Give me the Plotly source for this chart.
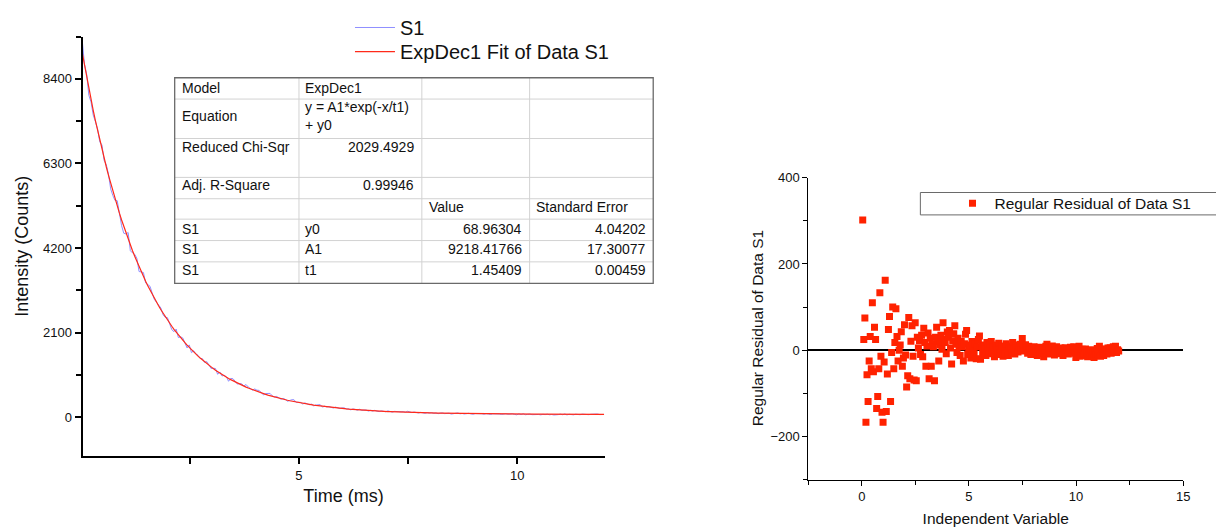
import numpy as np
import plotly.graph_objects as go

# ---------------- data ----------------
TIME_START = 0.04      # ms, first sample
TIME_STEP = 0.05       # ms, sampling interval

# regular residuals (counts), one per sample
RESIDUALS = [
    302, 25, 75, -167, -57, -119, -25, 32, -43, 110,
    -50, 53, 25, -135, -107, -43, 133, -14, -144, -167,
    -27, 162, -142, -55, 48, 78, -119, -5, 100, -43,
    18, 96, 32, -25, 0, 12, 43, -37, -18, 59,
    -11, -85, -59, 76, -66, 21, 57, -14, -69, 64,
    -71, 30, 5, 22, -10, 35, -15, 51, 18, -37,
    10, 40, -66, 28, -37, 15, 8, -71, 30, 53,
    20, -25, 12, 35, 2, 64, 25, 18, -8, 42,
    30, 46, 5, -32, 22, 38, 57, 14, -5, 28,
    10, -12, 20, 8, -25, 15, 37, 46, -10, 5,
    12, -18, 20, 3, -8, 15, -20, 8, 25, 33,
    -21, 10, -5, 12, 2, -12, 18, 6, -8, 14,
    20, -4, 8, -15, 12, 5, -10, 16, -6, 3,
    10, -14, 7, -8, 15, -3, -12, 9, 4, -6,
    18, 2, -9, 12, 6, -4, 8, 14, 0, 27,
    10, -2, 13, 5, -7, 9, 3, -10, 6, -3,
    8, -6, 4, -12, 2, 7, -8, -4, 5, -15,
    0, 9, 14, -6, 3, -9, 6, 10, -3, -11,
    4, 8, -5, 2, -8, 5, -2, -12, 3, 6,
    -6, 1, -9, 4, 7, -4, 2, 8, -7, -17,
    5, -10, 9, -14, -5, 2, -12, -8, 3, -6,
    -15, -2, -9, 1, -12, -5, -17, -3, -8, 4,
    -10, 9, -14, 2, -6, -12, 3, -4, -9, 5,
    -3, 6, -7, 2, 8, -2, 9, -5, 1, -2,
]

# fit parameters (ExpDec1)
FIT_Y0 = 68.96304
FIT_A1 = 9218.41766
FIT_T1 = 1.45409

# fit-report table
TABLE_COL1 = ["Model", "Equation", "Reduced Chi-Sqr", "Adj. R-Square", "", "S1", "S1", "S1"]
TABLE_COL2 = ["ExpDec1", "y = A1*exp(-x/t1)<br>+ y0", "2029.4929", "0.99946", "", "y0", "A1", "t1"]
TABLE_COL3 = ["", "", "", "", "Value", "68.96304", "9218.41766", "1.45409"]
TABLE_COL4 = ["", "", "", "", "Standard Error", "4.04202", "17.30077", "0.00459"]

LEFT_Y_TICKS = [0, 2100, 4200, 6300, 8400]
LEFT_X_TICKVALS = [2.5, 5, 7.5, 10]
LEFT_X_TICKTEXT = ["", "5", "", "10"]

# ---------------- derived series ----------------
t = TIME_START + TIME_STEP * np.arange(len(RESIDUALS))
fit = FIT_A1 * np.exp(-t / FIT_T1) + FIT_Y0
data_s1 = fit + np.array(RESIDUALS)

W, H = 1216, 527
FONT = "Liberation Sans, Arial, sans-serif"
TXT = "#111111"


def X(p):
    return p / W


def Y(p):
    return 1 - p / H


fig = go.Figure()

fig.add_trace(go.Scatter(
    x=t, y=data_s1, mode="lines", name="S1",
    line=dict(color="#8f8fff", width=1),
    xaxis="x", yaxis="y", legend="legend",
))
fig.add_trace(go.Scatter(
    x=t, y=fit, mode="lines", name="ExpDec1 Fit of Data S1",
    line=dict(color="#ff2a1a", width=1.2),
    xaxis="x", yaxis="y", legend="legend3",
))
fig.add_trace(go.Scatter(
    x=t, y=RESIDUALS, mode="markers", name="Regular Residual of Data S1",
    marker=dict(symbol="square", size=7, color="#ff2200", line=dict(width=0)),
    xaxis="x2", yaxis="y2", legend="legend2",
))

# ---------------- table (shapes + annotations) ----------------
col_lines = [175.7, 300.7, 424.3, 532.7, 657]
row_lines = [71.7, 93.3, 133.3, 172.7, 194.3, 215, 236.7, 258.3, 280]
shapes = []
for yy in row_lines[1:-1]:
    shapes.append(dict(type="line", xref="paper", yref="paper",
                       x0=X(col_lines[0]), x1=X(col_lines[-1]), y0=Y(yy), y1=Y(yy),
                       line=dict(color="#d2d2d2", width=1)))
for xx in col_lines[1:-1]:
    shapes.append(dict(type="line", xref="paper", yref="paper",
                       x0=X(xx), x1=X(xx), y0=Y(row_lines[0]), y1=Y(row_lines[-1]),
                       line=dict(color="#d2d2d2", width=1)))
shapes.append(dict(type="rect", xref="paper", yref="paper",
                   x0=X(col_lines[0]), x1=X(col_lines[-1]),
                   y0=Y(row_lines[0]), y1=Y(row_lines[-1]),
                   line=dict(color="#6a6a6a", width=1.3)))
# frame of the residual legend (runs off the right edge, as in the original)
shapes.append(dict(type="rect", xref="paper", yref="paper",
                   x0=X(925.7), x1=X(1230), y0=Y(210.7), y1=Y(188),
                   line=dict(color="#6a6a6a", width=1)))

row_centers = [82.5, 110.5, 141.7, 180.7, 202.7, 224.5, 245.5, 267]
annotations = []
tfont = dict(family=FONT, size=14, color=TXT)


def cell(text, x, y, align):
    if not text:
        return
    annotations.append(dict(text=text, xref="paper", yref="paper",
                            x=X(x), y=Y(y), xanchor=align, yanchor="middle",
                            align=align, showarrow=False, font=tfont))


for i in range(len(TABLE_COL1)):
    yc = row_centers[i]
    cell(TABLE_COL1[i], 181, yc, "left")
    if i in (2, 3):
        cell(TABLE_COL2[i], 418, yc, "right")
    else:
        cell(TABLE_COL2[i], 305, yc, "left")
    if i == 4:
        cell(TABLE_COL3[i], 429, yc, "left")
        cell(TABLE_COL4[i], 537, yc, "left")
    else:
        cell(TABLE_COL3[i], 527, yc, "right")
        cell(TABLE_COL4[i], 652, yc, "right")

# residual y-axis title
annotations.append(dict(text="Regular Residual of Data S1", xref="paper", yref="paper",
                        x=X(762), y=Y(326), xanchor="center", yanchor="middle",
                        textangle=-90, showarrow=False,
                        font=dict(family=FONT, size=15.5, color=TXT)))

axis_common = dict(showgrid=False, zeroline=False, showline=True,
                   linecolor="#000000", ticks="outside", tickcolor="#000000",
                   tickfont=dict(family=FONT, size=13, color=TXT))

fig.update_layout(
    width=W, height=H,
    margin=dict(l=0, r=0, t=0, b=0),
    paper_bgcolor="white", plot_bgcolor="white",
    font=dict(family=FONT, color=TXT),
    shapes=shapes, annotations=annotations,
    xaxis=dict(axis_common, domain=[X(83), X(608)], range=[0.045, 12.0],
               linewidth=2, tickwidth=1.5, ticklen=6,
               tickvals=LEFT_X_TICKVALS, ticktext=LEFT_X_TICKTEXT,
               title=dict(text="Time (ms)", standoff=8,
                          font=dict(family=FONT, size=18, color=TXT)),
               anchor="y"),
    yaxis=dict(axis_common, domain=[Y(455), Y(30)], range=[-960, 9450],
               linewidth=2, tickwidth=1.5, ticklen=6,
               tickvals=LEFT_Y_TICKS,
               minor=dict(dtick=1050, tick0=0, ticks="outside", ticklen=5,
                          tickwidth=1.5, tickcolor="#000000"),
               title=dict(text="Intensity (Counts)", standoff=10,
                          font=dict(family=FONT, size=18, color=TXT)),
               anchor="x"),
    xaxis2=dict(axis_common, domain=[X(813), X(1190)], range=[-2.5, 15],
                linewidth=1, tickwidth=1, ticklen=5,
                tick0=0, dtick=5,
                minor=dict(dtick=2.5, tick0=0, ticks="outside", ticklen=4,
                           tickcolor="#000000"),
                title=dict(text="Independent Variable", standoff=10,
                           font=dict(family=FONT, size=15.5, color=TXT)),
                anchor="y2"),
    yaxis2=dict(axis_common, domain=[Y(479), Y(173)], range=[-300, 400],
                linewidth=1, tickwidth=1, ticklen=5,
                tick0=0, dtick=200,
                zeroline=True, zerolinecolor="#000000", zerolinewidth=1.5,
                minor=dict(dtick=100, tick0=0, ticks="outside", ticklen=4,
                           tickcolor="#000000"),
                anchor="x2"),
    legend=dict(x=X(352), y=Y(1), xanchor="left", yanchor="top",
                bgcolor="rgba(0,0,0,0)", borderwidth=0,
                font=dict(family=FONT, size=20, color=TXT), itemwidth=40),
    legend3=dict(x=X(352), y=Y(25.5), xanchor="left", yanchor="top",
                 bgcolor="rgba(0,0,0,0)", borderwidth=0,
                 font=dict(family=FONT, size=20, color=TXT), itemwidth=40),
    legend2=dict(x=X(956), y=Y(182), xanchor="left", yanchor="top",
                 bgcolor="rgba(0,0,0,0)", borderwidth=0,
                 font=dict(family=FONT, size=15.5, color=TXT), itemwidth=34),
    showlegend=True,
)

fig.write_html("out.html")
